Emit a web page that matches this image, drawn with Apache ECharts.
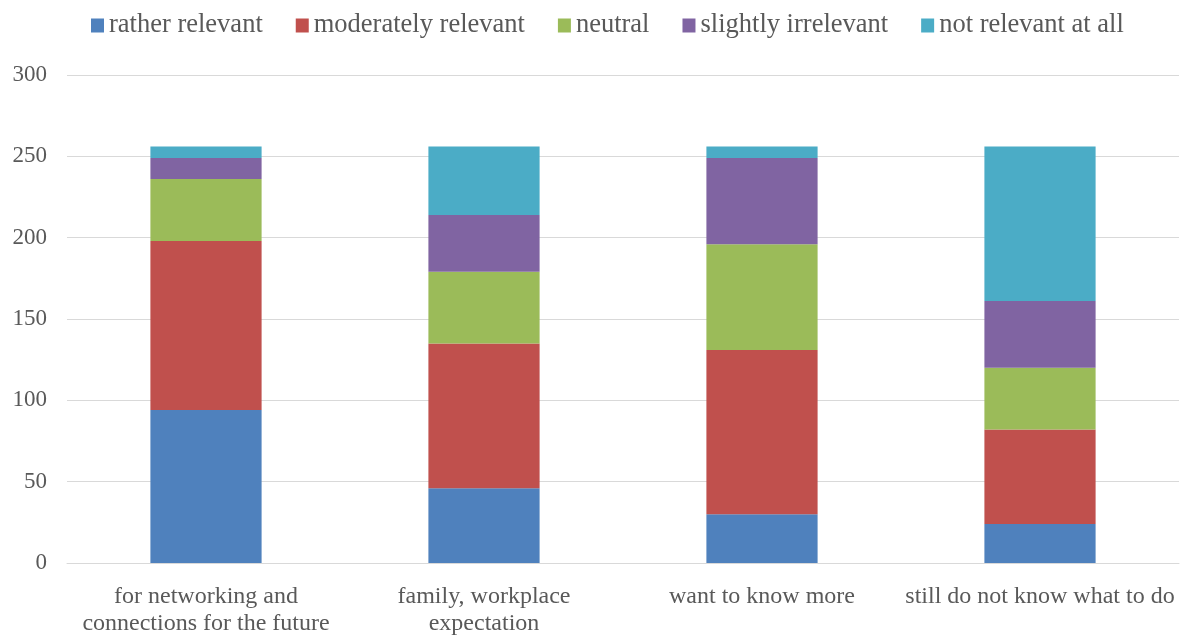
<!DOCTYPE html>
<html>
<head>
<meta charset="utf-8">
<script src="https://cdn.jsdelivr.net/npm/echarts@6/dist/echarts.min.js"></script>
<style>
  html, body { margin: 0; padding: 0; background: #fff; overflow: hidden; }
  #chart { width: 1182px; height: 637px; }
</style>
</head>
<body>
<div id="chart"></div>
<script>
// Reasons for attending, stacked by perceived relevance
const categories = [
  'for networking and\nconnections for the future',
  'family, workplace\nexpectation',
  'want to know more',
  'still do not know what to do'
];
const rankNames = ['rather relevant', 'moderately relevant', 'neutral', 'slightly irrelevant', 'not relevant at all'];
const rankColors = ['#4F81BD', '#C0504D', '#9BBB59', '#8064A2', '#4BACC6'];

const ratherRelevant     = [94, 46, 30, 24];
const moderatelyRelevant = [104, 89, 101, 58];
const neutral            = [38, 44, 65, 38];
const slightlyIrrelevant = [13, 35, 53, 41];
const notRelevantAtAll   = [7, 42, 7, 95];

const yTicks = { min: 0, max: 300, interval: 50 };

const seriesValues = [ratherRelevant, moderatelyRelevant, neutral, slightlyIrrelevant, notRelevantAtAll];
const font = '"Liberation Serif", "Times New Roman", serif';

const chart = echarts.init(document.getElementById('chart'));
chart.setOption({
  animation: false,
  textStyle: { fontFamily: font },
  legend: {
    top: 7,
    left: 86,
    itemWidth: 13,
    itemHeight: 14,
    itemGap: 33,
    icon: 'rect',
    textStyle: { fontFamily: font, fontSize: 26.5, color: '#595959' },
    data: rankNames
  },
  grid: { left: 67, right: 3, top: 75, bottom: 66 },
  xAxis: {
    type: 'category',
    data: categories,
    axisTick: { show: false },
    axisLine: { lineStyle: { color: '#D9D9D9', width: 1 } },
    axisLabel: { fontFamily: font, fontSize: 24, color: '#595959', margin: 20, lineHeight: 27, interval: 0 }
  },
  yAxis: {
    type: 'value',
    min: yTicks.min,
    max: yTicks.max,
    interval: yTicks.interval,
    axisLine: { show: false },
    axisTick: { show: false },
    splitLine: { lineStyle: { color: '#D9D9D9', width: 1 } },
    axisLabel: { fontFamily: font, fontSize: 23, color: '#595959', margin: 20 }
  },
  series: rankNames.map((name, i) => ({
    name: name,
    type: 'bar',
    stack: 'total',
    barWidth: '40%',
    itemStyle: { color: rankColors[i] },
    data: seriesValues[i]
  }))
});
</script>
</body>
</html>
